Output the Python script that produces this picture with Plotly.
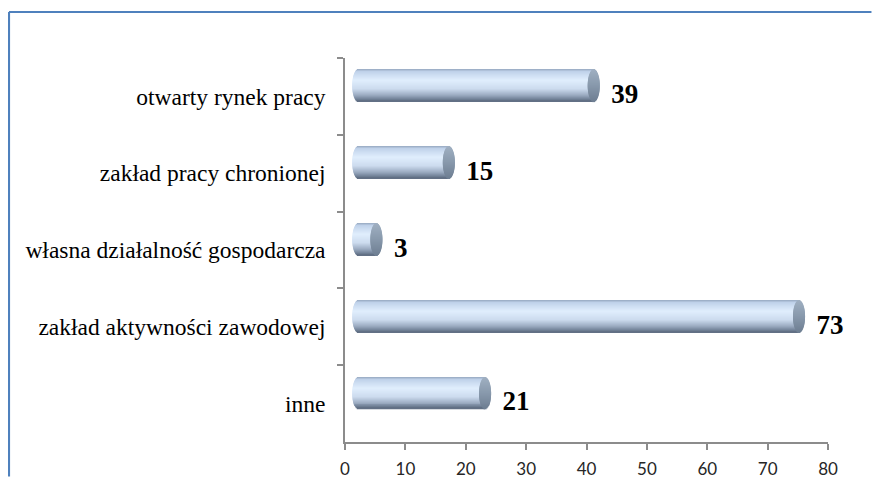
import math
import plotly.graph_objects as go

# ---- data ----
categories = [
    "otwarty rynek pracy",
    "zakład pracy chronionej",
    "własna działalność gospodarcza",
    "zakład aktywności zawodowej",
    "inne",
]
values = [39, 15, 3, 73, 21]
x_ticks = [0, 10, 20, 30, 40, 50, 60, 70, 80]

# ---- style ----
DEPTH = 2.2          # 3D depth shift of the cylinders (x units)
R = 1.0              # horizontal radius of cylinder end ellipses (x units)
BAR_W = 0.415        # bar thickness (category units)
TOP_OFF = -0.345     # bar top offset relative to category centre
N = 32               # number of shading stripes
LABEL_PAD = 2.9
SERIF = "Liberation Serif, Times New Roman, serif"

body_stops = [
    (0.00, (150, 168, 192)),
    (0.08, (192, 210, 234)),
    (0.35, (224, 238, 253)),
    (0.62, (204, 219, 238)),
    (0.82, (154, 170, 192)),
    (0.94, (114, 130, 152)),
    (1.00, (92, 106, 126)),
]
cap_stops = [
    (0.00, (160, 176, 194)),
    (0.50, (136, 153, 172)),
    (1.00, (110, 126, 146)),
]


def interp(stops, f):
    for (f0, c0), (f1, c1) in zip(stops[:-1], stops[1:]):
        if f0 <= f <= f1:
            k = (f - f0) / (f1 - f0) if f1 > f0 else 0
            c = [round(a + (b - a) * k) for a, b in zip(c0, c1)]
            return "rgb({},{},{})".format(*c)
    c = stops[-1][1]
    return "rgb({},{},{})".format(*c)


fig = go.Figure()
step = BAR_W / N

# cylinder bodies
for i in range(N):
    t = -1 + (2 * i + 1) / N
    s = math.sqrt(max(0.0, 1 - t * t))
    frac = (i + 0.5) / N
    fig.add_trace(go.Bar(
        y=categories, x=[v + R * s for v in values],
        base=[DEPTH - R * s] * len(values),
        orientation="h", width=step * 1.35, offset=TOP_OFF + i * step,
        marker=dict(color=interp(body_stops, frac), line=dict(width=0)),
        hoverinfo="skip", showlegend=False,
    ))

# cylinder end caps
for i in range(N):
    t = -1 + (2 * i + 1) / N
    s = math.sqrt(max(0.0, 1 - t * t))
    frac = (i + 0.5) / N
    fig.add_trace(go.Bar(
        y=categories, x=[2 * R * s] * len(values),
        base=[v + DEPTH - R * s for v in values],
        orientation="h", width=step * 1.35, offset=TOP_OFF + i * step,
        marker=dict(color=interp(cap_stops, frac), line=dict(width=0)),
        hoverinfo="skip", showlegend=False,
    ))

# data labels
fig.add_trace(go.Scatter(
    y=categories, x=[v + DEPTH + LABEL_PAD for v in values],
    text=[str(v) for v in values], mode="text", textposition="middle right",
    textfont=dict(family=SERIF, size=27, color="#000000", weight="bold"),
    hoverinfo="skip", showlegend=False, cliponaxis=False,
))

# frame (paper coords, relative to plot area 483x384 px at l=337, t=50)
FRAME_X = -0.6957
FRAME_Y = 1.1198
FRAME_RIGHT = 1.09
FRAME_BOTTOM = -0.09

# page body has an 8px margin: figure is sized/placed to fit inside it
fig.update_layout(
    width=866, height=471,
    margin=dict(l=337, r=46, t=50, b=37, autoexpand=False),
    barmode="overlay",
    paper_bgcolor="white", plot_bgcolor="white",
    showlegend=False,
    xaxis=dict(
        range=[0, 80], tickvals=x_ticks, showgrid=False, zeroline=False,
        showline=True, linecolor="#8c8c8c", linewidth=1.5,
        ticks="outside", ticklen=6, tickcolor="#8c8c8c", tickwidth=1.5,
        tickfont=dict(family="Lato", size=17, color="#262626"),
        ticklabelstandoff=5, automargin=False,
    ),
    yaxis=dict(
        type="category", categoryorder="array", categoryarray=categories,
        autorange="reversed", showgrid=False, zeroline=False,
        showline=True, linecolor="#8c8c8c", linewidth=1.5,
        ticks="outside", ticklen=6, tickcolor="#8c8c8c", tickwidth=1.5,
        tickson="boundaries",
        tickfont=dict(family=SERIF, size=23.5, color="#000000"),
        ticklabelstandoff=13, automargin=False,
    ),
    shapes=[
        dict(type="line", xref="paper", yref="paper",
             x0=FRAME_X, x1=FRAME_X, y0=FRAME_BOTTOM, y1=FRAME_Y,
             line=dict(color="#4F81BD", width=2.2), layer="above"),
        dict(type="line", xref="paper", yref="paper",
             x0=FRAME_X, x1=FRAME_RIGHT, y0=FRAME_Y, y1=FRAME_Y,
             line=dict(color="#4F81BD", width=2.2), layer="above"),
    ],
)

fig.write_html("out.html")
